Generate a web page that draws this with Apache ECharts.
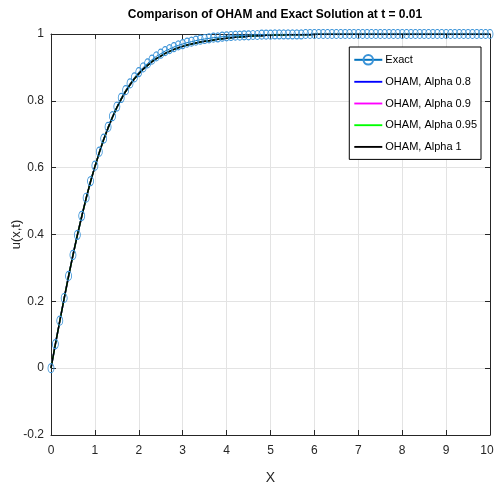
<!DOCTYPE html>
<html>
<head>
<meta charset="utf-8">
<script src="https://cdn.jsdelivr.net/npm/echarts@6/dist/echarts.min.js"></script>
<style>
  html, body { margin: 0; padding: 0; background: #fff; }
  #main { width: 495px; height: 488px; }
</style>
</head>
<body>
<div id="main"></div>
<script>
// x positions of the sampled points (0 .. 10, step 0.1)
var xs = [
  0.0, 0.1, 0.2, 0.3, 0.4, 0.5, 0.6, 0.7, 0.8, 0.9,
  1.0, 1.1, 1.2, 1.3, 1.4, 1.5, 1.6, 1.7, 1.8, 1.9,
  2.0, 2.1, 2.2, 2.3, 2.4, 2.5, 2.6, 2.7, 2.8, 2.9,
  3.0, 3.1, 3.2, 3.3, 3.4, 3.5, 3.6, 3.7, 3.8, 3.9,
  4.0, 4.1, 4.2, 4.3, 4.4, 4.5, 4.6, 4.7, 4.8, 4.9,
  5.0, 5.1, 5.2, 5.3, 5.4, 5.5, 5.6, 5.7, 5.8, 5.9,
  6.0, 6.1, 6.2, 6.3, 6.4, 6.5, 6.6, 6.7, 6.8, 6.9,
  7.0, 7.1, 7.2, 7.3, 7.4, 7.5, 7.6, 7.7, 7.8, 7.9,
  8.0, 8.1, 8.2, 8.3, 8.4, 8.5, 8.6, 8.7, 8.8, 8.9,
  9.0, 9.1, 9.2, 9.3, 9.4, 9.5, 9.6, 9.7, 9.8, 9.9,
  10.0
];

// exact solution (circles)
var exact = [
  0.000, 0.072, 0.142, 0.210, 0.276, 0.339, 0.399, 0.456, 0.510, 0.560,
  0.606, 0.648, 0.687, 0.722, 0.754, 0.783, 0.809, 0.832, 0.852, 0.870,
  0.886, 0.900, 0.912, 0.923, 0.933, 0.941, 0.949, 0.955, 0.961, 0.966,
  0.970, 0.974, 0.977, 0.980, 0.983, 0.985, 0.987, 0.989, 0.990, 0.992,
  0.993, 0.994, 0.995, 0.995, 0.996, 0.996, 0.997, 0.997, 0.998, 0.998,
  0.998, 0.999, 0.999, 0.999, 0.999, 0.999, 0.999, 0.999, 1.000, 1.000,
  1.000, 1.000, 1.000, 1.000, 1.000, 1.000, 1.000, 1.000, 1.000, 1.000,
  1.000, 1.000, 1.000, 1.000, 1.000, 1.000, 1.000, 1.000, 1.000, 1.000,
  1.000, 1.000, 1.000, 1.000, 1.000, 1.000, 1.000, 1.000, 1.000, 1.000,
  1.000, 1.000, 1.000, 1.000, 1.000, 1.000, 1.000, 1.000, 1.000, 1.000,
  1.000
];

// OHAM curves - the four alphas lie on top of each other at this scale
var oham = [
  0.000, 0.072, 0.141, 0.209, 0.275, 0.338, 0.398, 0.454, 0.508, 0.558,
  0.603, 0.645, 0.684, 0.719, 0.751, 0.780, 0.805, 0.828, 0.848, 0.866,
  0.881, 0.895, 0.906, 0.917, 0.926, 0.934, 0.942, 0.948, 0.954, 0.959,
  0.963, 0.967, 0.970, 0.973, 0.976, 0.978, 0.980, 0.982, 0.984, 0.986,
  0.987, 0.989, 0.990, 0.991, 0.992, 0.993, 0.994, 0.995, 0.995, 0.996,
  0.996, 0.997, 0.997, 0.997, 0.998, 0.998, 0.998, 0.998, 0.998, 0.998,
  0.999, 0.999, 0.999, 0.999, 0.999, 0.999, 0.999, 0.999, 0.999, 0.999,
  0.999, 0.999, 0.999, 0.999, 0.999, 0.999, 0.999, 0.999, 0.999, 0.999,
  0.999, 0.999, 0.999, 0.999, 0.999, 0.999, 0.999, 0.999, 0.999, 0.999,
  0.999, 0.999, 0.999, 0.999, 0.999, 0.999, 0.999, 0.999, 0.999, 0.999,
  0.999
];
var alpha08 = oham;
var alpha09 = oham;
var alpha095 = oham;
var alpha1 = oham;

var seriesNames = ['Exact', 'OHAM, Alpha 0.8', 'OHAM, Alpha 0.9', 'OHAM, Alpha 0.95', 'OHAM, Alpha 1'];

var font = "'Liberation Sans', Arial, sans-serif";
var axisColor = '#262626';
var lineIcon = 'path://M0,0H30V2H0Z';

function pairs(ys) {
  var out = [];
  for (var i = 0; i < xs.length; i++) {
    out.push([xs[i], ys[i]]);
  }
  return out;
}

function ohamLine(name, ys, color) {
  return {
    name: name,
    type: 'line',
    data: pairs(ys),
    showSymbol: false,
    symbol: 'none',
    lineStyle: { color: color, width: 1.5 },
    itemStyle: { color: color },
    animation: false
  };
}

var chart = echarts.init(document.getElementById('main'), null, { renderer: 'canvas' });

var option = {
  backgroundColor: '#fff',
  textStyle: { fontFamily: font },
  title: {
    text: 'Comparison of OHAM and Exact Solution at t = 0.01',
    left: 270,
    textAlign: 'center',
    top: 4,
    textStyle: { fontFamily: font, fontSize: 12, fontWeight: 'bold', color: '#000' }
  },
  legend: {
    orient: 'vertical',
    right: 14,
    top: 47,
    data: [
      { name: seriesNames[0] },
      { name: seriesNames[1], icon: lineIcon },
      { name: seriesNames[2], icon: lineIcon },
      { name: seriesNames[3], icon: lineIcon },
      { name: seriesNames[4], icon: lineIcon }
    ],
    backgroundColor: '#fff',
    borderColor: '#000',
    borderWidth: 1,
    borderRadius: 0,
    padding: [7, 4, 7, 4],
    itemWidth: 28,
    itemHeight: 12,
    itemGap: 10.7,
    textStyle: { fontFamily: font, fontSize: 11, color: '#000', padding: [0, 0, 0, -2] }
  },
  grid: { left: 51, right: 5, top: 34, bottom: 53, outerBoundsMode: 'none', containLabel: false },
  xAxis: [{
    type: 'value',
    min: 0,
    max: 10,
    interval: 1,
    name: 'X',
    nameLocation: 'middle',
    nameGap: 36,
    nameTextStyle: { fontFamily: font, fontSize: 14, color: '#262626' },
    axisLine: { show: true, onZero: false, lineStyle: { color: axisColor, width: 1 } },
    axisTick: { show: true, inside: true, length: 5, lineStyle: { color: axisColor } },
    axisLabel: {
      fontFamily: font, fontSize: 12, color: '#262626', margin: 10,
      // keep the last label inside the canvas
      formatter: function (v) { return v === 10 ? '{last|10}' : String(v); },
      rich: { last: { fontFamily: font, fontSize: 12, color: '#262626', padding: [0, 6, 0, 0] } }
    },
    splitLine: { show: true, lineStyle: { color: '#e3e3e3', width: 1 } }
  }, {
    type: 'value',
    position: 'top',
    min: 0,
    max: 10,
    interval: 1,
    axisLine: { show: true, onZero: false, lineStyle: { color: axisColor, width: 1 } },
    axisTick: { show: true, inside: true, length: 5, lineStyle: { color: axisColor } },
    axisLabel: { show: false },
    splitLine: { show: false }
  }],
  yAxis: [{
    type: 'value',
    min: -0.2,
    max: 1,
    interval: 0.2,
    name: 'u(x,t)',
    nameLocation: 'middle',
    nameGap: 28,
    nameMoveOverlap: false,
    nameTextStyle: { fontFamily: font, fontSize: 13, color: '#262626' },
    axisLine: { show: true, onZero: false, lineStyle: { color: axisColor, width: 1 } },
    axisTick: { show: true, inside: true, length: 5, lineStyle: { color: axisColor } },
    axisLabel: { fontFamily: font, fontSize: 12, color: '#262626', margin: 7 },
    splitLine: { show: true, lineStyle: { color: '#e3e3e3', width: 1 } }
  }, {
    type: 'value',
    position: 'right',
    min: -0.2,
    max: 1,
    interval: 0.2,
    axisLine: { show: true, onZero: false, lineStyle: { color: axisColor, width: 1 } },
    axisTick: { show: true, inside: true, length: 5, lineStyle: { color: axisColor } },
    axisLabel: { show: false },
    splitLine: { show: false }
  }],
  series: [
    {
      name: 'Exact',
      type: 'line',
      data: pairs(exact),
      symbol: 'circle',
      symbolSize: [6, 9],
      showAllSymbol: true,
      lineStyle: { color: '#0072BD', width: 1 },
      itemStyle: { color: 'rgba(255,255,255,0)', borderColor: '#3a93d8', borderWidth: 1 },
      animation: false
    },
    ohamLine('OHAM, Alpha 0.8', alpha08, '#0000FF'),
    ohamLine('OHAM, Alpha 0.9', alpha09, '#FF00FF'),
    ohamLine('OHAM, Alpha 0.95', alpha095, '#00FF00'),
    ohamLine('OHAM, Alpha 1', alpha1, '#000000')
  ]
};

chart.setOption(option);
</script>
</body>
</html>
